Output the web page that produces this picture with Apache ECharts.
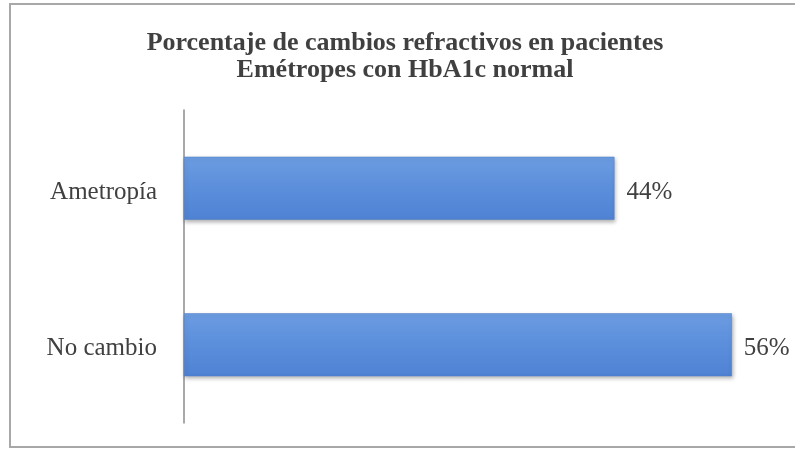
<!DOCTYPE html>
<html>
<head>
<meta charset="utf-8">
<script src="https://cdn.jsdelivr.net/npm/echarts@6/dist/echarts.min.js"></script>
<style>html,body{margin:0;padding:0;background:#fff}#c{width:795px;height:449px}</style>
</head>
<body>
<div id="c"></div>
<script>
var categories = ['Ametropía', 'No cambio'];
var values = [44, 56];
var titleText = 'Porcentaje de cambios refractivos en pacientes\nEmétropes con HbA1c normal';

var chart = echarts.init(document.getElementById('c'));
chart.setOption({
  backgroundColor: '#ffffff',
  animation: false,
  graphic: [{
    type: 'rect',
    shape: { x: 10, y: 4, width: 800, height: 443 },
    style: { fill: 'none', stroke: '#a8a8a8', lineWidth: 2 },
    z: -1
  }],
  title: {
    text: titleText,
    left: 405,
    top: 30,
    textAlign: 'center',
    padding: 0,
    textStyle: {
      fontFamily: 'Liberation Serif',
      fontWeight: 'bold',
      fontSize: 26,
      lineHeight: 27,
      color: '#404040'
    }
  },
  grid: { left: 184, right: 24, top: 110, bottom: 26, containLabel: false },
  xAxis: {
    type: 'value',
    min: 0,
    max: 60,
    show: false
  },
  yAxis: {
    type: 'category',
    data: categories,
    inverse: true,
    axisLine: { show: true, lineStyle: { color: '#8c8c8c', width: 1.5 } },
    axisTick: { show: false },
    axisLabel: {
      margin: 27,
      formatter: function (v) { return '{a|' + v + '}'; },
      rich: {
        a: {
          fontFamily: 'Liberation Serif',
          fontSize: 25,
          color: '#404040',
          padding: [8, 0, 0, 0]
        }
      }
    }
  },
  series: [{
    type: 'bar',
    data: values,
    barWidth: 63,
    itemStyle: {
      color: new echarts.graphic.LinearGradient(0, 0, 0, 1, [
        { offset: 0, color: '#6c9de2' },
        { offset: 0.5, color: '#5b8edb' },
        { offset: 1, color: '#4f82d3' }
      ]),
      borderColor: '#4a7cc9',
      borderWidth: 0.5,
      shadowColor: 'rgba(0,0,0,0.3)',
      shadowBlur: 4,
      shadowOffsetX: 1,
      shadowOffsetY: 2
    },
    label: {
      show: true,
      position: 'right',
      distance: 12,
      offset: [0, 4],
      formatter: '{c}%',
      fontFamily: 'Liberation Serif',
      fontSize: 25,
      color: '#404040'
    }
  }]
});
</script>
</body>
</html>
